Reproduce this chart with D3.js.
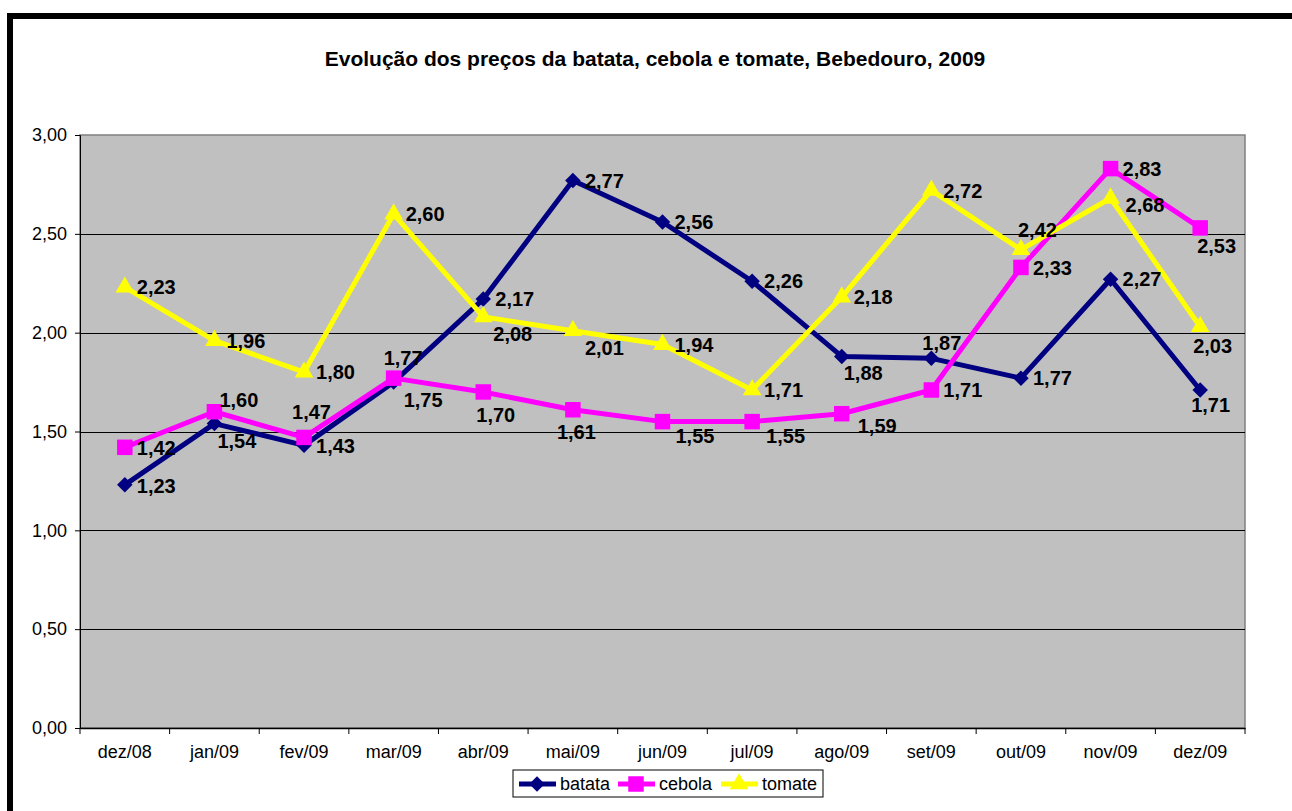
<!DOCTYPE html>
<html>
<head>
<meta charset="utf-8">
<script src="https://cdn.jsdelivr.net/npm/d3@7"></script>
<style>
  body { margin: 0; background: #fff; }
  svg { display: block; font-family: Arial, "Liberation Sans", sans-serif; }
</style>
</head>
<body>
<div id="chart"></div>
<script>
var width = 1292;
var height = 811;

// dados
var months = ["dez/08", "jan/09", "fev/09", "mar/09", "abr/09", "mai/09", "jun/09",
  "jul/09", "ago/09", "set/09", "out/09", "nov/09", "dez/09"];
var batata = [1.23, 1.54, 1.43, 1.75, 2.17, 2.77, 2.56, 2.26, 1.88, 1.87, 1.77, 2.27, 1.71];
var cebola = [1.42, 1.60, 1.47, 1.77, 1.70, 1.61, 1.55, 1.55, 1.59, 1.71, 2.33, 2.83, 2.53];
var tomate = [2.23, 1.96, 1.80, 2.60, 2.08, 2.01, 1.94, 1.71, 2.18, 2.72, 2.42, 2.68, 2.03];
var yTicks = [0, 0.5, 1, 1.5, 2, 2.5, 3];

// deslocamento dos rotulos (dx, dy) em relacao ao ponto
var batataLabelPos = [[12, 1], [3, 17], [12, 0], [10, 18], [12, 0], [12, 0], [12, 0],
  [12, 0], [2, 16], [-9, -16], [12, 0], [12, 0], [-9, 15]];
var cebolaLabelPos = [[12, 0], [5, -12], [-12, -26], [-10, -20], [-7, 23], [-16, 22], [13, 14],
  [14, 14], [16, 12], [12, 0], [12, 0], [12, 0], [-3, 18]];
var tomateLabelPos = [[12, 0], [12, 0], [12, 0], [12, 0], [10, 17], [12, 17], [12, 0],
  [12, 0], [12, 0], [12, 0], [-3, -20], [15, 7], [-7, 19]];

// losango = quadrado girado
var diamond = {
  draw: function (context, size) {
    var r = Math.sqrt(size / 2);
    context.moveTo(0, -r);
    context.lineTo(r, 0);
    context.lineTo(0, r);
    context.lineTo(-r, 0);
    context.closePath();
  }
};

var series = [
  { name: "batata", values: batata, color: "#000080", symbol: diamond, size: 120, labels: batataLabelPos },
  { name: "cebola", values: cebola, color: "#FF00FF", symbol: d3.symbolSquare, size: 240, labels: cebolaLabelPos },
  { name: "tomate", values: tomate, color: "#FFFF00", symbol: d3.symbolTriangle, size: 150, labels: tomateLabelPos }
];

var plot = { left: 80, right: 1245, top: 135, bottom: 728 };

var svg = d3.select("#chart").append("svg")
  .attr("width", width)
  .attr("height", height);

// moldura
svg.append("rect")
  .attr("x", 10).attr("y", 16)
  .attr("width", 1300).attr("height", 820)
  .attr("fill", "#fff")
  .attr("stroke", "#000")
  .attr("stroke-width", 6);

svg.append("text")
  .attr("x", 655).attr("y", 66)
  .attr("text-anchor", "middle")
  .style("font-size", "21px")
  .style("font-weight", "bold")
  .text("Evolução dos preços da batata, cebola e tomate, Bebedouro, 2009");

var x = d3.scaleBand().domain(months).range([plot.left, plot.right]).padding(0);
var y = d3.scaleLinear().domain([0, 3]).range([plot.bottom, plot.top]);
var cx = function (i) { return x(months[i]) + x.bandwidth() / 2; };

// area do grafico
svg.append("rect")
  .attr("x", plot.left).attr("y", plot.top)
  .attr("width", plot.right - plot.left).attr("height", plot.bottom - plot.top)
  .attr("fill", "#C0C0C0")
  .attr("stroke", "#808080")
  .attr("stroke-width", 1.5);

svg.append("g").selectAll("line")
  .data(yTicks.filter(function (d) { return d > 0 && d < 3; }))
  .enter().append("line")
  .attr("x1", plot.left).attr("x2", plot.right)
  .attr("y1", function (d) { return Math.round(y(d)) + 0.5; })
  .attr("y2", function (d) { return Math.round(y(d)) + 0.5; })
  .attr("stroke", "#000")
  .attr("stroke-width", 1);

var fmt = function (d) { return d.toFixed(2).replace(".", ","); };

var yAxis = svg.append("g")
  .attr("transform", "translate(" + plot.left + ",0)")
  .call(d3.axisLeft(y).tickValues(yTicks).tickFormat(fmt).tickSize(5).tickPadding(8));
yAxis.selectAll("text").style("font-size", "18px").attr("fill", "#000");
yAxis.selectAll("line, path").attr("stroke", "#000");

var xAxis = svg.append("g")
  .attr("transform", "translate(0," + plot.bottom + ")")
  .call(d3.axisBottom(x).tickSize(0).tickSizeOuter(0).tickPadding(17));
xAxis.selectAll("text").style("font-size", "18px").attr("fill", "#000");
xAxis.select("path").attr("stroke", "#000").attr("stroke-width", 1.5);

// marcas entre categorias
xAxis.selectAll(".bound")
  .data(months.concat(["end"]))
  .enter().append("line")
  .attr("class", "bound")
  .attr("x1", function (d, i) { return plot.left + i * x.bandwidth(); })
  .attr("x2", function (d, i) { return plot.left + i * x.bandwidth(); })
  .attr("y1", 0).attr("y2", 6)
  .attr("stroke", "#000");

var line = d3.line()
  .x(function (d, i) { return cx(i); })
  .y(function (d) { return y(d); });

series.forEach(function (s) {
  var g = svg.append("g");
  g.append("path")
    .attr("d", line(s.values))
    .attr("fill", "none")
    .attr("stroke", s.color)
    .attr("stroke-width", 5)
    .attr("stroke-linejoin", "round");
  g.selectAll("path.mk")
    .data(s.values)
    .enter().append("path")
    .attr("class", "mk")
    .attr("transform", function (d, i) { return "translate(" + cx(i) + "," + y(d) + ")"; })
    .attr("d", d3.symbol().type(s.symbol).size(s.size))
    .attr("fill", s.color);
});

series.forEach(function (s) {
  svg.append("g").selectAll("text")
    .data(s.values)
    .enter().append("text")
    .attr("x", function (d, i) { return cx(i) + s.labels[i][0]; })
    .attr("y", function (d, i) { return y(d) + s.labels[i][1]; })
    .attr("dy", "0.36em")
    .style("font-size", "20px")
    .style("font-weight", "bold")
    .text(fmt);
});

// legenda
var legend = svg.append("g");
legend.append("rect")
  .attr("x", 513).attr("y", 770)
  .attr("width", 310).attr("height", 27)
  .attr("fill", "#fff")
  .attr("stroke", "#000");

var legendX = [519, 618, 721];
series.forEach(function (s, i) {
  var lx = legendX[i];
  legend.append("line")
    .attr("x1", lx).attr("x2", lx + 37)
    .attr("y1", 784).attr("y2", 784)
    .attr("stroke", s.color)
    .attr("stroke-width", 5);
  legend.append("path")
    .attr("transform", "translate(" + (lx + 18) + ",784)")
    .attr("d", d3.symbol().type(s.symbol).size(s.size))
    .attr("fill", s.color);
  legend.append("text")
    .attr("x", lx + 41).attr("y", 784)
    .attr("dy", "0.36em")
    .style("font-size", "18px")
    .text(s.name);
});
</script>
</body>
</html>
